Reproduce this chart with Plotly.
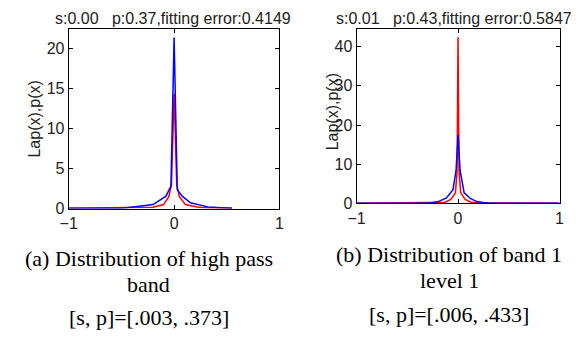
import plotly.graph_objects as go

# ---- data ----
a_red_x = [-1, -0.3, -0.2, -0.1, -0.05, -0.025, 0, 0.025, 0.05, 0.108, 0.216, 0.3, 0.55]
a_red_y = [0.05, 0.1, 0.18, 0.5, 1.5, 3.0, 14.4, 3.0, 1.5, 0.5, 0.2, 0.1, 0.05]
a_blue_x = [-1, -0.5, -0.31, -0.2, -0.077, -0.03, 0, 0.03, 0.077, 0.155, 0.26, 0.32, 0.55]
a_blue_y = [0.05, 0.05, 0.33, 0.5, 1.55, 2.8, 21.4, 2.35, 1.55, 0.73, 0.4, 0.2, 0.05]

b_red_x = [-1, -0.3, -0.13, -0.07, -0.026, -0.01, 0, 0.01, 0.026, 0.07, 0.13, 0.3, 1]
b_red_y = [0.05, 0.1, 0.3, 1.0, 2.7, 8, 42.4, 8, 2.7, 1.0, 0.3, 0.1, 0.05]
b_blue_x = [-1, -0.3, -0.2, -0.115, -0.05, -0.02, 0, 0.02, 0.06, 0.125, 0.19, 0.3, 1]
b_blue_y = [0.05, 0.05, 0.4, 1.4, 3.5, 8.4, 17.5, 8.4, 2.7, 1.2, 0.4, 0.05, 0.05]

x_ticks = [-1, 0, 1]
a_y_ticks = [0, 5, 10, 15, 20]
b_y_ticks = [0, 10, 20, 30, 40]

titles = ["s:0.00\u00a0\u00a0\u00a0p:0.37,fitting error:0.4149",
          "s:0.01\u00a0\u00a0\u00a0p:0.43,fitting error:0.5847"]
ylabel = "Lap(x),p(x)"
captions_a = ["(a) Distribution of high pass", "band", "[s, p]=[.003, .373]"]
captions_b = ["(b) Distribution of band 1", "level 1", "[s, p]=[.006, .433]"]

W, H = 579, 342
SANS = "Liberation Sans, Arial, sans-serif"
SERIF = "Liberation Serif, Times New Roman, serif"

fig = go.Figure()
fig.add_trace(go.Scatter(x=a_red_x, y=a_red_y, mode="lines", line=dict(color="#ff0000", width=1.5), xaxis="x", yaxis="y", showlegend=False))
fig.add_trace(go.Scatter(x=a_blue_x, y=a_blue_y, mode="lines", line=dict(color="#0000ff", width=1.5), xaxis="x", yaxis="y", showlegend=False))
fig.add_trace(go.Scatter(x=b_red_x, y=b_red_y, mode="lines", line=dict(color="#ff0000", width=1.5), xaxis="x2", yaxis="y2", showlegend=False))
fig.add_trace(go.Scatter(x=b_blue_x, y=b_blue_y, mode="lines", line=dict(color="#0000ff", width=1.5), xaxis="x2", yaxis="y2", showlegend=False))

def px_x(p):
    return p / W

def px_y(p):
    return 1 - p / H

axis_common = dict(showgrid=False, zeroline=False, showline=True, linecolor="black", linewidth=1,
                   mirror="allticks", ticks="inside", ticklen=4, tickcolor="black",
                   tickfont=dict(family=SANS, size=16, color="#222"))

fig.update_layout(
    width=W, height=H, margin=dict(l=0, r=0, t=0, b=0),
    paper_bgcolor="white", plot_bgcolor="white",
    xaxis=dict(domain=[px_x(53), px_x(269)], range=[-1, 1], tickvals=x_ticks, anchor="y", **axis_common),
    yaxis=dict(domain=[px_y(206), px_y(22)], range=[0, 22.4], tickvals=a_y_ticks, anchor="x", **axis_common),
    xaxis2=dict(domain=[px_x(348), px_x(556)], range=[-1, 1], tickvals=x_ticks, anchor="y2", **axis_common),
    yaxis2=dict(domain=[px_y(200.7), px_y(22)], range=[0, 44.4], tickvals=b_y_ticks, anchor="x2", **axis_common),
)

ann = []
ann.append(dict(text=titles[0], x=px_x(160), y=px_y(11), xref="paper", yref="paper", showarrow=False,
                font=dict(family=SANS, size=16, color="#222"), xanchor="center", yanchor="middle"))
ann.append(dict(text=titles[1], x=px_x(571), y=px_y(11), xref="paper", yref="paper", showarrow=False,
                font=dict(family=SANS, size=16, color="#222"), xanchor="right", yanchor="middle"))
ann.append(dict(text=ylabel, x=px_x(18), y=px_y(114), xref="paper", yref="paper", showarrow=False, textangle=-90,
                font=dict(family=SANS, size=16, color="#222"), xanchor="center", yanchor="middle"))
ann.append(dict(text=ylabel, x=px_x(323), y=px_y(107), xref="paper", yref="paper", showarrow=False, textangle=-90,
                font=dict(family=SANS, size=16, color="#222"), xanchor="center", yanchor="middle"))
for txt, yy in zip(captions_a, [257, 284, 318]):
    ann.append(dict(text=txt, x=px_x(135), y=px_y(yy), xref="paper", yref="paper", showarrow=False,
                    font=dict(family=SERIF, size=22, color="black"), xanchor="center", yanchor="middle"))
for txt, yy in zip(captions_b, [253, 280, 315]):
    ann.append(dict(text=txt, x=px_x(443), y=px_y(yy), xref="paper", yref="paper", showarrow=False,
                    font=dict(family=SERIF, size=22, color="black"), xanchor="center", yanchor="middle"))
fig.update_layout(annotations=ann)

fig.write_html("out.html")
